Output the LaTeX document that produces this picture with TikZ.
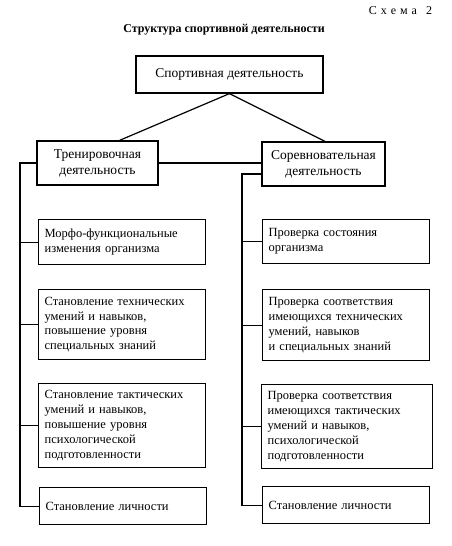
\documentclass[tikz,border=0pt]{standalone}
\usepackage{fontspec}
\setmainfont{Liberation Serif}
\usetikzlibrary{positioning}

\begin{document}
\begin{tikzpicture}[x=1pt,y=-1pt,line width=1.2pt,
    mainbox/.style={draw,align=center,inner sep=3pt,font=\fontsize{13.5}{16}\selectfont},
    subbox/.style={draw,anchor=north west,align=left,text width=155pt,inner xsep=6pt,inner ysep=3pt,font=\fontsize{12.5}{14.8}\selectfont}]
    \useasboundingbox (0,0) rectangle (452,546);

    % Header
    \node[anchor=east,font=\fontsize{12}{14}\selectfont] (scheme) at (436,11) {С\,\,х\,\,е\,\,м\,\,а\ \ \ 2};
    \node[font=\bfseries\fontsize{12}{14}\selectfont] (title) at (224,30) {Структура спортивной деятельности};

    % Top level
    \node[mainbox,minimum width=187pt,minimum height=37pt] (sport) at (229.5,74.5) {Спортивная деятельность};
    \node[mainbox,minimum width=121pt,minimum height=44pt] (train) at (97.5,163) {Тренировочная\\деятельность};
    \node[mainbox,minimum width=123pt,minimum height=44pt] (comp) at (323.5,164) {Соревновательная\\деятельность};

    % Left column
    \node[subbox,minimum height=45pt] (t1) at (38,219) {Морфо-функциональные\\изменения организма};
    \node[subbox,minimum height=70pt] (t2) at (38,289) {Становление технических\\умений и навыков,\\повышение уровня\\специальных знаний};
    \node[subbox,minimum height=84pt] (t3) at (38,383) {Становление тактических\\умений и навыков,\\повышение уровня\\психологической\\подготовленности};
    \node[subbox,minimum height=37pt] (t4) at (39,487) {Становление личности};

    % Right column
    \node[subbox,minimum height=44pt] (c1) at (262,219) {Проверка состояния\\организма};
    \node[subbox,minimum height=71pt] (c2) at (262,289) {Проверка соответствия\\имеющихся технических\\умений, навыков\\и специальных знаний};
    \node[subbox,minimum height=84pt,text width=159pt] (c3) at (261,384) {Проверка соответствия\\имеющихся тактических\\умений и навыков,\\психологической\\подготовленности};
    \node[subbox,minimum height=37pt] (c4) at (262,486) {Становление личности};

    % Links from the top box
    \draw (sport.south) -- ([xshift=22pt]train.north);
    \draw (sport.south) -- ([xshift=1.5pt]comp.north);
    \draw (train.east) -- (train.east -| comp.west);

    % Left spine
    \coordinate (lspine) at (20,163);
    \draw (train.west) -- (lspine) |- (t4.west);
    \draw (t1.west) -- (t1.west -| lspine);
    \draw (t2.west) -- (t2.west -| lspine);
    \draw (t3.west) -- (t3.west -| lspine);

    % Right spine
    \coordinate (rspine) at (242,174);
    \draw ([yshift=-10pt]comp.west) -- (rspine) |- (c4.west);
    \draw (c1.west) -- (c1.west -| rspine);
    \draw (c2.west) -- (c2.west -| rspine);
    \draw (c3.west) -- (c3.west -| rspine);
\end{tikzpicture}
\end{document}
